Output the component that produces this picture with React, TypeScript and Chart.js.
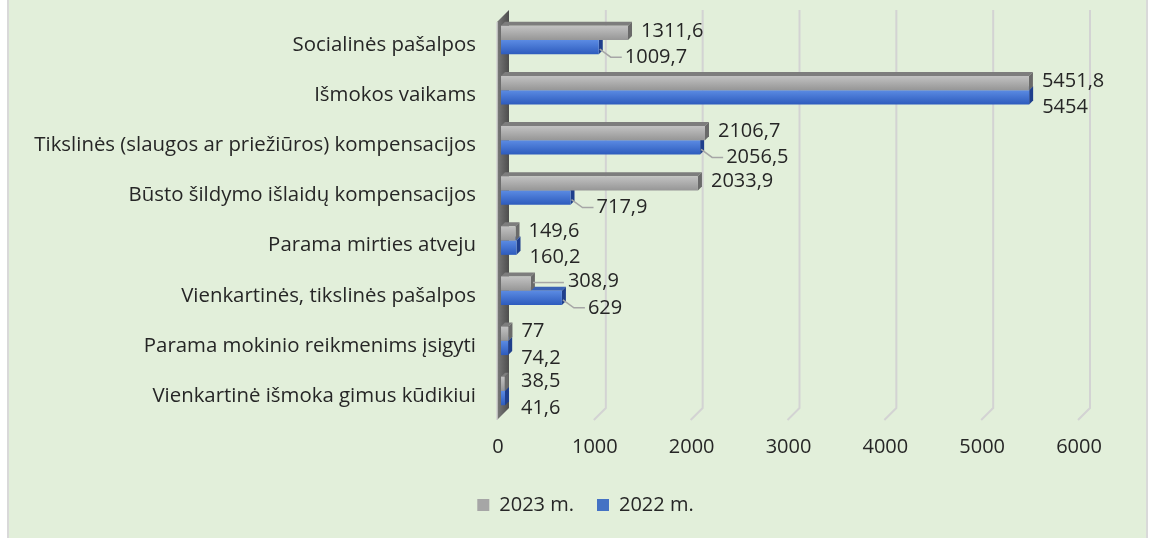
import React, { useEffect, useRef } from "react";
import { Chart, registerables } from "chart.js";

Chart.register(...registerables);

const categories = [
  "Socialinės pašalpos",
  "Išmokos vaikams",
  "Tikslinės (slaugos ar priežiūros) kompensacijos",
  "Būsto šildymo išlaidų kompensacijos",
  "Parama mirties atveju",
  "Vienkartinės, tikslinės pašalpos",
  "Parama mokinio reikmenims įsigyti",
  "Vienkartinė išmoka gimus kūdikiui",
];
const values2023 = [1311.6, 5451.8, 2106.7, 2033.9, 149.6, 308.9, 77, 38.5];
const values2022 = [1009.7, 5454, 2056.5, 717.9, 160.2, 629, 74.2, 41.6];
const seriesNames = ["2023 m.", "2022 m."];
const xMin = 0;
const xMax = 6000;
const xStep = 1000;

const FONT = "'Open Sans', sans-serif";
const TEXT = "#262626";
const CAT_PCT = 0.57;
const DEPTH = 4;

const fmt = (v: number) => String(v).replace(".", ",");

const frontColors = [
  ["#c2c2c2", "#969696"],
  ["#5b8be3", "#2d5bbd"],
];
const topColors = ["#7d7d7d", "#3a62b5"];
const sideColors = ["#6a6a6a", "#1f3f8c"];
const legendColors = ["#a6a6a6", "#4472c4"];

function frontFill(datasetIndex: number) {
  return (c: any) => {
    const chart = c.chart;
    const area = chart.chartArea;
    if (!area || c.dataIndex === undefined) return frontColors[datasetIndex][1];
    const ys = chart.scales.y;
    const yc = ys.getPixelForValue(c.dataIndex);
    const cat = (area.bottom - area.top) / categories.length;
    const th = (cat * CAT_PCT) / 2;
    const top = datasetIndex === 0 ? yc - th : yc;
    const g = chart.ctx.createLinearGradient(0, top, 0, top + th);
    g.addColorStop(0, frontColors[datasetIndex][0]);
    g.addColorStop(1, frontColors[datasetIndex][1]);
    return g;
  };
}

const zeroPad = (s: any) => {
  s.paddingTop = 0;
  s.paddingBottom = 0;
  s.paddingLeft = 0;
  s.paddingRight = 0;
};

const threeD = {
  id: "threeD",
  beforeDatasetsDraw(chart: any) {
    const { ctx, chartArea: a, scales } = chart;
    const xs = scales.x;
    ctx.save();
    ctx.strokeStyle = "#d3d3d3";
    ctx.lineWidth = 2;
    for (let v = xMin + xStep; v <= xMax; v += xStep) {
      const x = xs.getPixelForValue(v);
      ctx.beginPath();
      ctx.moveTo(x + 8, a.top - 5);
      ctx.lineTo(x + 8, a.bottom - 8);
      ctx.lineTo(x - 4, a.bottom + 4);
      ctx.stroke();
    }
    const x0 = xs.getPixelForValue(0);
    const wg = ctx.createLinearGradient(x0 - 4, 0, x0 + 8, 0);
    wg.addColorStop(0, "#7a7a7a");
    wg.addColorStop(1, "#4d4d4d");
    ctx.fillStyle = wg;
    ctx.beginPath();
    ctx.moveTo(x0 - 4, a.top + 7);
    ctx.lineTo(x0 + 8, a.top - 5);
    ctx.lineTo(x0 + 8, a.bottom - 8);
    ctx.lineTo(x0 - 4, a.bottom + 4);
    ctx.closePath();
    ctx.fill();
    ctx.strokeStyle = "#d3d3d3";
    ctx.lineWidth = 1.5;
    ctx.beginPath();
    ctx.moveTo(x0 - 4, a.top + 7);
    ctx.lineTo(x0 - 4, a.bottom + 4);
    ctx.stroke();

    for (const di of [1, 0]) {
      const meta = chart.getDatasetMeta(di);
      meta.data.forEach((el: any) => {
        const p = el.getProps(["x", "y", "base", "height"], true);
        const top = p.y - p.height / 2;
        const bot = p.y + p.height / 2;
        const end = p.x;
        const start = p.base;
        ctx.fillStyle = topColors[di];
        ctx.beginPath();
        ctx.moveTo(start, top);
        ctx.lineTo(start + DEPTH, top - DEPTH);
        ctx.lineTo(end + DEPTH, top - DEPTH);
        ctx.lineTo(end, top);
        ctx.closePath();
        ctx.fill();
        ctx.fillStyle = sideColors[di];
        ctx.beginPath();
        ctx.moveTo(end, top);
        ctx.lineTo(end + DEPTH, top - DEPTH);
        ctx.lineTo(end + DEPTH, bot - DEPTH);
        ctx.lineTo(end, bot);
        ctx.closePath();
        ctx.fill();
      });
    }
    ctx.restore();
  },
  afterDatasetsDraw(chart: any) {
    const { ctx, scales } = chart;
    const x0 = scales.x.getPixelForValue(0);
    const minX = x0 + 20;
    const mGray = chart.getDatasetMeta(0);
    const mBlue = chart.getDatasetMeta(1);
    ctx.save();
    ctx.font = `20px ${FONT}`;
    ctx.fillStyle = TEXT;
    ctx.textBaseline = "middle";
    ctx.textAlign = "left";
    ctx.strokeStyle = "#a6a6a6";
    ctx.lineWidth = 1.5;
    categories.forEach((_, i) => {
      const g = mGray.data[i].getProps(["x", "y", "height"], true);
      const b = mBlue.data[i].getProps(["x", "y", "height"], true);
      const vg = values2023[i];
      const vb = values2022[i];
      const gEnd = g.x + DEPTH;
      const bEnd = b.x + DEPTH;
      const shiftGray = vb - vg > 40;
      const shiftBlue = Math.abs(vg - vb) > 40;
      let gx = Math.max(gEnd + 9, minX);
      const gy = g.y - 2;
      if (shiftGray) {
        gx = bEnd + 2;
        ctx.beginPath();
        ctx.moveTo(gEnd - 2, g.y - 1);
        ctx.lineTo(gx - 4, g.y - 1);
        ctx.stroke();
      }
      ctx.fillText(fmt(vg), gx, gy);
      let bx = Math.max(bEnd + 9, minX);
      const by = b.y + 10;
      if (shiftBlue) {
        bx = bEnd + 22;
        ctx.beginPath();
        ctx.moveTo(bEnd - 3, b.y + 2);
        ctx.lineTo(bEnd + 8, by);
        ctx.lineTo(bx - 3, by);
        ctx.stroke();
      }
      ctx.fillText(fmt(vb), bx, by);
    });
    ctx.restore();
  },
};

export default function App() {
  const ref = useRef<HTMLCanvasElement | null>(null);
  useEffect(() => {
    if (!ref.current) return;
    const chart = new Chart(ref.current, {
      type: "bar",
      data: {
        labels: categories,
        datasets: [
          {
            label: seriesNames[0],
            data: values2023,
            backgroundColor: frontFill(0),
            borderWidth: 0,
            categoryPercentage: CAT_PCT,
            barPercentage: 1,
          },
          {
            label: seriesNames[1],
            data: values2022,
            backgroundColor: frontFill(1),
            borderWidth: 0,
            categoryPercentage: CAT_PCT,
            barPercentage: 1,
          },
        ],
      },
      options: {
        indexAxis: "y",
        animation: false,
        responsive: false,
        maintainAspectRatio: false,
        layout: { padding: { top: 15, right: 0, bottom: 13, left: 16 } },
        scales: {
          x: {
            min: xMin,
            max: xMax,
            grid: { display: false },
            border: { display: false },
            ticks: {
              stepSize: xStep,
              padding: 11,
              labelOffset: -3,
              color: TEXT,
              font: { family: FONT, size: 20 },
              maxRotation: 0,
              callback: (v: any) => String(v),
            },
            afterFit: (s: any) => {
              s.height = 56;
              zeroPad(s);
            },
          },
          y: {
            grid: { display: false, drawTicks: false },
            border: { display: false },
            ticks: {
              padding: 25,
              labelOffset: 5,
              color: TEXT,
              font: { family: FONT, size: 20.4 },
              autoSkip: false,
            },
            afterFit: (s: any) => {
              s.width = 485;
              zeroPad(s);
            },
          },
          yRight: {
            type: "linear",
            position: "right",
            display: true,
            grid: { display: false },
            border: { display: false },
            ticks: { display: false },
            afterFit: (s: any) => {
              s.width = 73;
              zeroPad(s);
            },
          },
        },
        plugins: {
          legend: {
            position: "bottom",
            labels: {
              color: TEXT,
              font: { family: FONT, size: 20 },
              boxWidth: 12,
              boxHeight: 12,
              padding: 23,
              generateLabels: (c: any) =>
                c.data.datasets.map((ds: any, i: number) => ({
                  text: ds.label,
                  fillStyle: legendColors[i],
                  strokeStyle: legendColors[i],
                  lineWidth: 0,
                  hidden: false,
                  datasetIndex: i,
                  fontColor: TEXT,
                })),
            },
          },
          tooltip: { enabled: false },
        },
      },
      plugins: [threeD],
    });
    return () => chart.destroy();
  }, []);

  return (
    <div
      style={{
        position: "fixed",
        left: 0,
        top: 0,
        width: 1155,
        height: 538,
        background: "#ffffff",
      }}
    >
      <div
        style={{
          position: "absolute",
          left: 7,
          top: 0,
          width: 1137,
          height: 538,
          background: "#e2efda",
          borderLeft: "2px solid #d9d9d9",
          borderRight: "2px solid #d9d9d9",
        }}
      />
      <canvas
        ref={ref}
        width={1155}
        height={538}
        style={{ position: "absolute", left: 0, top: 0, width: 1155, height: 538 }}
      />
    </div>
  );
}
